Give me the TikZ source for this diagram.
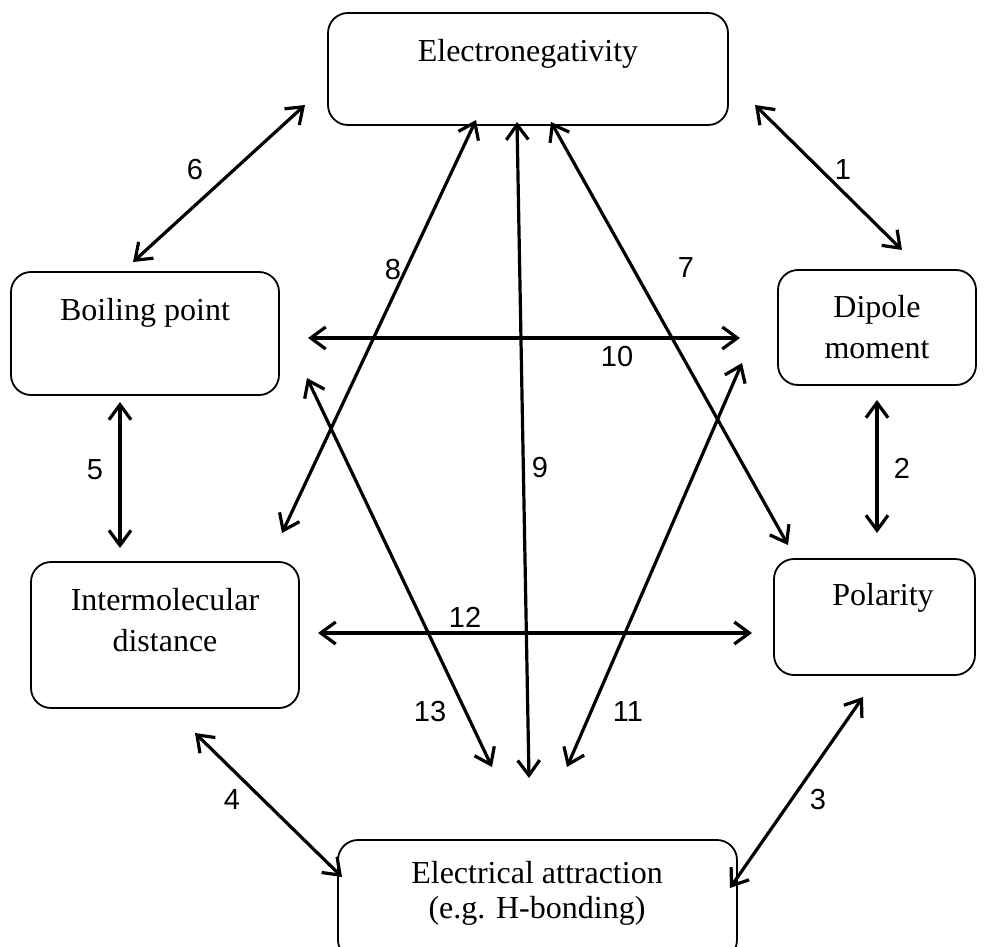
\documentclass[tikz,border=0pt]{standalone}
\usepackage{fontspec}
\setmainfont{Liberation Serif}
\newfontfamily\numfont{Liberation Sans}
\usetikzlibrary{arrows.meta}
\begin{document}
\begin{tikzpicture}[x=0.5pt,y=-0.5pt,
  box/.style={draw, line width=0.9pt, rounded corners=10pt, inner sep=0pt},
  boxtext/.style={font=\fontsize{16}{20.5}\selectfont, align=center, inner sep=0pt},
  link/.style={line width=1.6pt, {Straight Barb[length=7.5pt,width=11pt,line width=1.6pt]}-{Straight Barb[length=7.5pt,width=11pt,line width=1.6pt]}},
  num/.style={font=\numfont\fontsize{14.5}{16}\selectfont, inner sep=0pt}]
\useasboundingbox (0,0) rectangle (985,947);
\begin{scope}
\clip (0,0) rectangle (985,947);
% boxes
\draw[box] (328,13) rectangle (728,125);
\draw[box] (11,272) rectangle (279,395);
\draw[box] (778,270) rectangle (976,385);
\draw[box] (31,562) rectangle (299,708);
\draw[box] (774,559) rectangle (975,675);
\draw[box] (338,840) rectangle (737,960);
\end{scope}
% box texts
\node[boxtext] (en) at (528,54) {Electronegativity};
\node[boxtext] (bp) at (145,313) {Boiling point};
\node[boxtext] (dm) at (877,327) {Dipole\\moment};
\node[boxtext] (im) at (165,620) {Intermolecular\\distance};
\node[boxtext] (po) at (883,598) {Polarity};
\node[boxtext, font=\fontsize{16}{17.5}\selectfont] (ea) at (537,893) {Electrical attraction\\(e.g. H-bonding)};
% arrow ends
\coordinate (a1s) at (755,105);  \coordinate (a1e) at (902,250);
\coordinate (a2s) at (877,400);  \coordinate (a2e) at (877,533);
\coordinate (a3s) at (863,697);  \coordinate (a3e) at (730,888);
\coordinate (a4s) at (195,733);  \coordinate (a4e) at (342,877);
\coordinate (a5s) at (120,402);  \coordinate (a5e) at (120,548);
\coordinate (a6s) at (305,105);  \coordinate (a6e) at (133,262);
\coordinate (a7s) at (551,122);  \coordinate (a7e) at (788,545);
\coordinate (a8s) at (476,120);  \coordinate (a8e) at (282,533);
\coordinate (a9s) at (517,122);  \coordinate (a9e) at (529,778);
\coordinate (a10s) at (308,338); \coordinate (a10e) at (740,338);
\coordinate (a11s) at (742,363); \coordinate (a11e) at (567,767);
\coordinate (a12s) at (318,633); \coordinate (a12e) at (752,633);
\coordinate (a13s) at (307,378); \coordinate (a13e) at (492,767);
% connectors
\foreach \i in {1,...,13} \draw[link] (a\i s) -- (a\i e);
% connector numbers
\node[num] (n1) at (843,170) {1};
\node[num] (n2) at (902,468) {2};
\node[num] (n3) at (818,800) {3};
\node[num] (n4) at (232,800) {4};
\node[num] (n5) at (95,470) {5};
\node[num] (n6) at (195,170) {6};
\node[num] (n7) at (686,268) {7};
\node[num] (n8) at (393,270) {8};
\node[num] (n9) at (540,468) {9};
\node[num] (n10) at (617,357) {10};
\node[num] (n11) at (628,712) {11};
\node[num] (n12) at (465,617) {12};
\node[num] (n13) at (430,712) {13};
\end{tikzpicture}
\end{document}
